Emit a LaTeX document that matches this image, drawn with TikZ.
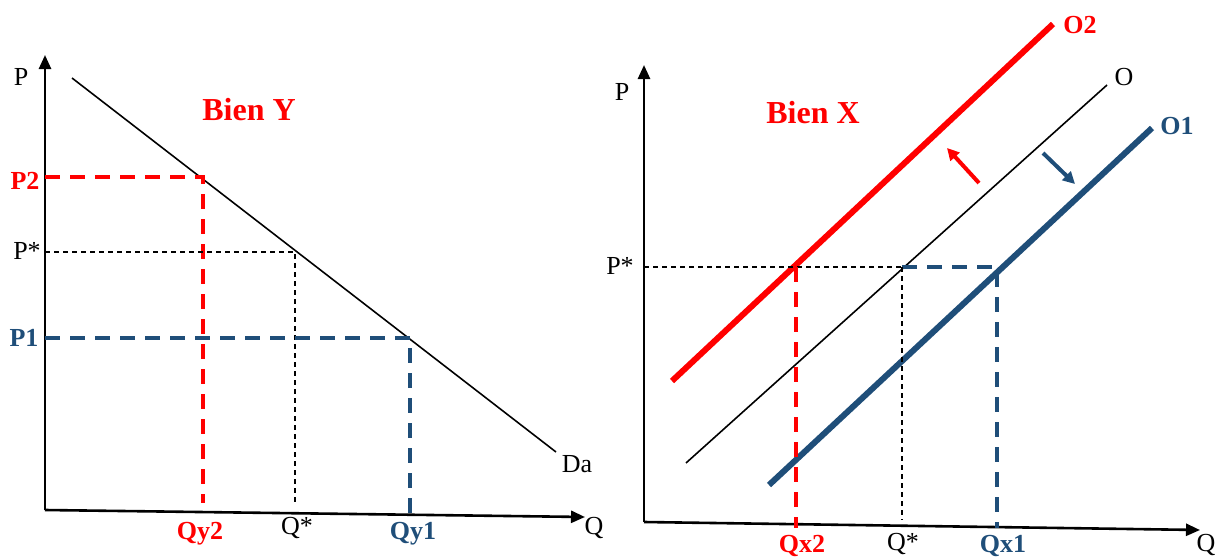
\documentclass[tikz,border=0pt]{standalone}
\usepackage{fontspec}
\setmainfont{Liberation Serif}
\usetikzlibrary{arrows.meta}
\definecolor{ored}{HTML}{FF0000}
\definecolor{oblue}{HTML}{1F4E79}

\begin{document}
\begin{tikzpicture}[x=0.5pt,y=-0.5pt,
  axis/.style={line width=1.3pt,-{Triangle[length=7pt,width=6pt]}},
  lbl/.style={inner sep=0pt,font=\fontsize{13}{15}\selectfont},
  blbl/.style={inner sep=0pt,font=\bfseries\fontsize{13}{15}\selectfont},
  title/.style={inner sep=0pt,text=ored,font=\bfseries\fontsize{16}{19}\selectfont},
  guide/.style={dash pattern=on 2.5pt off 2pt,line width=0.7pt},
  bigdash/.style={dash pattern=on 7.5pt off 5pt,line width=1.8pt},
  movearrow/.style={line width=2pt,-{Triangle[length=6pt,width=6pt]}}]
\useasboundingbox (0,0) rectangle (1215,557);

% --- Bien Y ---
\coordinate (oy) at (45,510);
\coordinate (py) at (45,55);
\coordinate (qy) at (585,517);
\draw[axis] (oy) -- (py);
\draw[axis] (oy) -- (qy);
\node[lbl] (ly-p) at (21,77) {P};
\node[lbl] (ly-q) at (594,528) {Q};
\node[title] (ty) at (249,110) {Bien Y};

\coordinate (da0) at (72,78);
\coordinate (da1) at (556,452);
\draw[line width=0.8pt] (da0) -- (da1);
\node[lbl] (ly-da) at (577,464) {Da};

\coordinate (ey2) at (203,177);
\coordinate (ey) at (295,252);
\coordinate (ey1) at (410,338);
\draw[bigdash,ored] (45,177) coordinate (ay2) -- (ey2) -- (203,503) coordinate (by2);
\draw[guide] (45,252) coordinate (ay) -- (ey) -- (295,505) coordinate (by);
\draw[bigdash,oblue] (45,338) coordinate (ay1) -- (ey1) -- (410,513) coordinate (by1);

\node[blbl,text=ored] (ly-p2) at (25,181) {P2};
\node[lbl] (ly-ps) at (27,251) {P*};
\node[blbl,text=oblue] (ly-p1) at (24,338) {P1};
\node[blbl,text=ored] (ly-q2) at (200,534) {Qy2};
\node[lbl] (ly-qs) at (297,528) {Q*};
\node[blbl,text=oblue] (ly-q1) at (413,534) {Qy1};

% --- Bien X ---
\coordinate (ox) at (644,522);
\coordinate (px) at (644,65);
\coordinate (qx) at (1200,530);
\draw[axis] (ox) -- (px);
\draw[axis] (ox) -- (qx);
\node[lbl] (lx-p) at (622,92) {P};
\node[lbl] (lx-q) at (1206,545) {Q};
\node[title] (tx) at (813,113) {Bien X};

\coordinate (o0) at (686,463);
\coordinate (o1) at (1107,85);
\coordinate (o20) at (672,381);
\coordinate (o21) at (1053,24);
\coordinate (o10) at (769,485);
\coordinate (o11) at (1152,128);
\draw[line width=3pt,ored] (o20) -- (o21);
\draw[line width=0.8pt] (o0) -- (o1);
\draw[line width=3pt,oblue] (o10) -- (o11);
\node[blbl,text=ored] (lx-o2) at (1080,25) {O2};
\node[lbl] (lx-o) at (1124,77) {O};
\node[blbl,text=oblue] (lx-o1) at (1177,126) {O1};

\coordinate (ex2) at (796,267);
\coordinate (ex) at (902,267);
\coordinate (ex1) at (997,267);
\draw[guide] (644,267) coordinate (ax) -- (ex);
\draw[bigdash,oblue] (ex) -- (ex1) -- (997,528) coordinate (bx1);
\draw[bigdash,ored] (ex2) -- (796,528) coordinate (bx2);
\draw[guide] (ex) -- (902,520) coordinate (bx);

\node[lbl] (lx-ps) at (620,266) {P*};
\node[blbl,text=ored] (lx-q2) at (802,546) {Qx2};
\node[lbl] (lx-qs) at (903,544) {Q*};
\node[blbl,text=oblue] (lx-q1) at (1003,546) {Qx1};

\coordinate (r0) at (979,183);
\coordinate (r1) at (947,148);
\coordinate (b0) at (1043,153);
\coordinate (b1) at (1075,184);
\draw[movearrow,ored] (r0) -- (r1);
\draw[movearrow,oblue] (b0) -- (b1);
\end{tikzpicture}
\end{document}
